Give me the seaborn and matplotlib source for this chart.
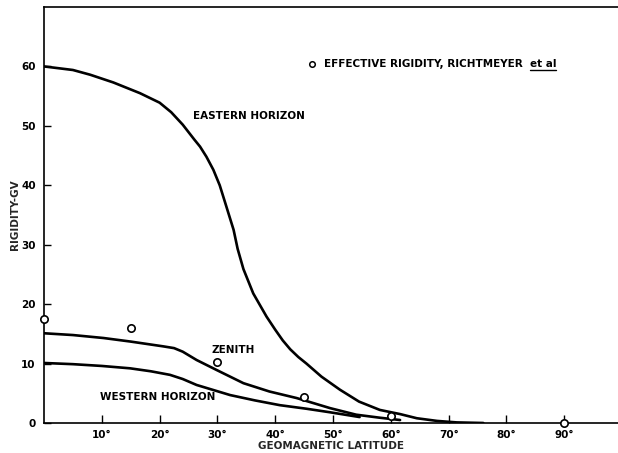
import matplotlib
matplotlib.use("Agg")
import matplotlib.pyplot as plt
from matplotlib.lines import Line2D
import seaborn as sns
import pandas as pd

# Cutoff rigidity vs geomagnetic latitude
eastern_lat = [0, 5, 8, 12, 16.6, 20, 22, 24, 26, 27, 28.1, 29.3, 30.4, 31.3, 32.8, 33.5, 34.5, 36.2, 38.5, 40, 41.3, 42.6, 44, 45.4, 48, 51.2, 54.5, 58.1, 61.6, 64.5, 68, 71.4, 76]
eastern_gv = [60, 59.4, 58.6, 57.3, 55.5, 53.9, 52.3, 50.2, 47.7, 46.5, 44.8, 42.6, 40.0, 37.2, 32.5, 29.3, 25.9, 21.8, 17.9, 15.7, 13.9, 12.4, 11.1, 10.0, 7.8, 5.6, 3.6, 2.2, 1.5, 0.8, 0.35, 0.1, 0]

zenith_lat = [0, 5, 10.3, 15, 20.6, 22.5, 24, 26.4, 29.9, 34.5, 39, 43.7, 49.5, 54, 58, 61.6]
zenith_gv = [15.1, 14.8, 14.3, 13.7, 12.9, 12.6, 12.0, 10.6, 8.9, 6.7, 5.3, 4.2, 2.5, 1.4, 0.9, 0.5]

western_lat = [0, 5, 10, 14.9, 18.5, 21.8, 24, 26.4, 32.2, 36.5, 40.8, 45.4, 49.5, 54.6]
western_gv = [10.1, 9.9, 9.6, 9.2, 8.7, 8.1, 7.4, 6.4, 4.7, 3.8, 3.0, 2.4, 1.8, 1.0]

# Effective rigidity, Richtmeyer et al
effective_lat = [0, 15, 30, 45, 60, 90]
effective_gv = [17.5, 16.0, 10.2, 4.3, 1.2, 0.0]

x_ticks = [10, 20, 30, 40, 50, 60, 70, 80, 90]
x_tick_labels = ["10°", "20°", "30°", "40°", "50°", "60°", "70°", "80°", "90°"]
y_ticks = [0, 10, 20, 30, 40, 50, 60]
y_tick_labels = ["0", "10", "20", "30", "40", "50", "60"]

sns.set_style("white")
plt.rcParams["font.family"] = ["DejaVu Sans"]
plt.rcParams["font.weight"] = "bold"

fig = plt.figure(figsize=(6.18, 4.53), dpi=100)
ax = fig.add_axes([44 / 618, 1 - 423 / 453, (618 - 44) / 618, (423 - 7) / 453])

curves = pd.concat([
    pd.DataFrame({"lat": eastern_lat, "gv": eastern_gv, "curve": "EASTERN HORIZON"}),
    pd.DataFrame({"lat": zenith_lat, "gv": zenith_gv, "curve": "ZENITH"}),
    pd.DataFrame({"lat": western_lat, "gv": western_gv, "curve": "WESTERN HORIZON"}),
])
sns.lineplot(data=curves, x="lat", y="gv", units="curve", estimator=None,
             color="black", lw=1.9, sort=False, ax=ax, legend=False)
for ln in ax.lines:
    ln.set_solid_joinstyle("round")
    ln.set_solid_capstyle("round")

pts = pd.DataFrame({"lat": effective_lat, "gv": effective_gv})
sns.scatterplot(data=pts, x="lat", y="gv", ax=ax, s=28, marker="o",
                facecolor="white", edgecolor="black", linewidth=1.2,
                clip_on=False, zorder=5, legend=False)

ax.set_xlim(0, 99.3)
ax.set_ylim(0, 70)

for side in ["left", "top", "bottom"]:
    ax.spines[side].set_linewidth(1.2)
    ax.spines[side].set_color("black")
ax.spines["right"].set_visible(False)

ax.set_xticks(x_ticks)
ax.set_xticklabels(x_tick_labels)
ax.set_yticks(y_ticks)
ax.set_yticklabels(y_tick_labels)
ax.tick_params(axis="x", direction="in", length=6, width=1, pad=5,
               labelsize=7.5, colors="black", bottom=True)
ax.tick_params(axis="y", direction="in", length=5, width=1, pad=6,
               labelsize=7.5, colors="black", left=True)

ax.set_xlabel("GEOMAGNETIC LATITUDE", fontsize=7.5, fontweight="bold", labelpad=1)
ax.set_ylabel("RIGIDITY-GV", fontsize=7.5, fontweight="bold", labelpad=1)

lab = dict(fontsize=7.5, fontweight="bold", va="center", ha="left", color="black")
ax.text(25.8, 51.6, "EASTERN HORIZON", **lab)
ax.text(29.0, 12.3, "ZENITH", **lab)
ax.text(9.7, 4.4, "WESTERN HORIZON", **lab)

# key for the open circles
ax.scatter([46.3], [60.4], s=16, marker="o", facecolor="white",
           edgecolor="black", linewidth=1.1, zorder=5)
ax.text(48.4, 60.4, "EFFECTIVE RIGIDITY, RICHTMEYER", **lab)
etal = ax.text(84.0, 60.4, "et al", **lab)

fig.canvas.draw()
bb = etal.get_window_extent()
fig.add_artist(Line2D([bb.x0 / fig.bbox.width, bb.x1 / fig.bbox.width],
                      [(bb.y0 - 1) / fig.bbox.height] * 2,
                      transform=fig.transFigure, color="black", lw=1.0))

fig.savefig("out.png", dpi=100)
